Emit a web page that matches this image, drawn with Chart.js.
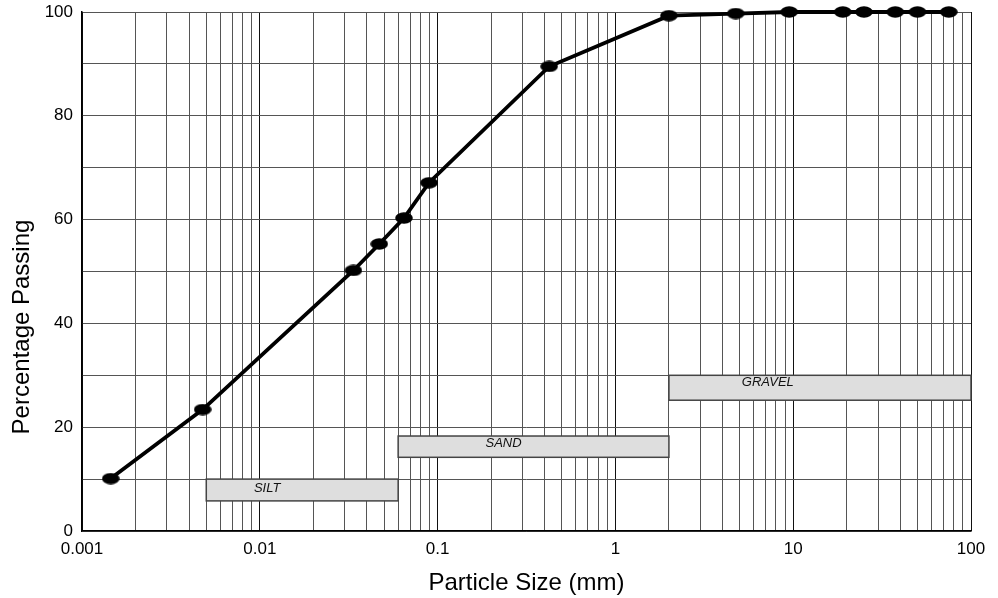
<!DOCTYPE html>
<html>
<head>
<meta charset="utf-8">
<title>Particle Size Distribution</title>
<script src="https://cdn.jsdelivr.net/npm/chart.js@4.4.1/dist/chart.umd.min.js"></script>
<style>
  html, body { margin: 0; padding: 0; background: #fff; }
  #grading { display: block; }
</style>
</head>
<body>
<canvas id="grading" width="998" height="598"></canvas>
<script>
// sieve + hydrometer results
const sizes = [0.00145, 0.00477, 0.0336, 0.047, 0.0647, 0.0895, 0.424, 2.0, 4.75, 9.5, 19, 25, 37.5, 50, 75]
const passing = [10.1, 23.4, 50.2, 55.3, 60.3, 67.1, 89.5, 99.3, 99.7, 100, 100, 100, 100, 100, 100]

// soil class bands (size range, percent range, label spot)
const zoneNames = ['SILT', 'SAND', 'GRAVEL']
const zoneFrom = [0.005, 0.06, 2]
const zoneTo = [0.06, 2, 100]
const zoneLow = [5.8, 14.2, 25.2]
const zoneHigh = [10, 18.3, 30]
const zoneTextX = [0.011, 0.235, 7.2]
const zoneTextY = [8.3, 16.8, 28.7]

// axis ticks
const decades = [0.001, 0.01, 0.1, 1, 10, 100]
const xTickLabels = ['0.001', '0.01', '0.1', '1', '10', '100']
const steps = [1, 2, 3, 4, 5, 6, 7, 8, 9]
const yTickLabels = ['0', '20', '40', '60', '80', '100']

const FONT = 'Arial, "Liberation Sans", sans-serif'
Chart.defaults.font.family = FONT
Chart.defaults.color = '#000'

// black oval marker
function ovalMarker() {
  const c = document.createElement('canvas')
  c.width = 18
  c.height = 12
  const g = c.getContext('2d')
  g.fillStyle = '#000'
  g.beginPath()
  g.ellipse(9, 6, 8.8, 5.8, 0, 0, Math.PI * 2)
  g.fill()
  return c
}

const bands = {
  id: 'bands',
  beforeDatasetsDraw(chart) {
    const { ctx, scales: { x, y } } = chart
    ctx.save()
    zoneNames.forEach((name, i) => {
      const left = x.getPixelForValue(zoneFrom[i])
      const right = x.getPixelForValue(zoneTo[i])
      const top = y.getPixelForValue(zoneHigh[i])
      const bottom = y.getPixelForValue(zoneLow[i])
      ctx.fillStyle = '#dedede'
      ctx.fillRect(left, top, right - left, bottom - top)
      ctx.strokeStyle = '#444'
      ctx.lineWidth = 1.5
      ctx.strokeRect(left, top, right - left, bottom - top)
      ctx.fillStyle = '#111'
      ctx.font = 'italic 13px ' + FONT
      ctx.textAlign = 'center'
      ctx.textBaseline = 'middle'
      ctx.fillText(name, x.getPixelForValue(zoneTextX[i]), y.getPixelForValue(zoneTextY[i]))
    })
    ctx.restore()
  }
}

// y title sits lower than the axis middle
const yTitle = {
  id: 'yTitle',
  afterDraw(chart) {
    const { ctx } = chart
    ctx.save()
    ctx.translate(29, 327)
    ctx.rotate(-Math.PI / 2)
    ctx.font = '24px ' + FONT
    ctx.fillStyle = '#000'
    ctx.textAlign = 'center'
    ctx.textBaseline = 'alphabetic'
    ctx.fillText('Percentage Passing', 0, 0)
    ctx.restore()
  }
}

const ctx = document.getElementById('grading').getContext('2d')
const chart = new Chart(ctx, {
  type: 'line',
  data: {
    datasets: [{
      label: 'Passing',
      data: sizes.map((s, i) => ({ x: s, y: passing[i] })),
      borderColor: '#000',
      backgroundColor: '#000',
      borderWidth: 3.8,
      pointStyle: ovalMarker(),
      pointRadius: 8,
      tension: 0,
      clip: false
    }]
  },
  options: {
    responsive: false,
    animation: false,
    devicePixelRatio: 1,
    layout: { padding: { top: 12, right: 27, left: 0, bottom: 0 } },
    plugins: {
      legend: { display: false },
      tooltip: { enabled: false }
    },
    scales: {
      x: {
        type: 'logarithmic',
        min: 0.001,
        max: 100,
        afterBuildTicks: (scale) => {
          const ticks = []
          decades.forEach((d, i) => {
            if (i === decades.length - 1) {
              ticks.push({ value: d, major: true })
              return
            }
            steps.forEach((s) => ticks.push({ value: d * s, major: s === 1 }))
          })
          scale.ticks = ticks
        },
        afterFit: (scale) => {
          scale.height = 67
          scale.paddingLeft = 0
          scale.paddingRight = 0
        },
        ticks: {
          autoSkip: false,
          maxRotation: 0,
          padding: 8,
          font: { size: 17 },
          callback: (value) => {
            const k = decades.indexOf(value)
            return k >= 0 ? xTickLabels[k] : ''
          }
        },
        grid: {
          drawTicks: false,
          color: (c) => (c.tick && c.tick.major ? '#111' : '#555'),
          lineWidth: 1
        },
        border: { color: '#000', width: 1.5 },
        title: {
          display: true,
          text: 'Particle Size (mm)',
          font: { size: 24 },
          padding: { top: 0, bottom: 0 }
        }
      },
      y: {
        min: 0,
        max: 100,
        afterFit: (scale) => {
          scale.width = 82
          scale.paddingTop = 0
          scale.paddingBottom = 0
        },
        ticks: {
          stepSize: 10,
          autoSkip: false,
          padding: 9,
          font: { size: 17 },
          callback: (value) => (value % 20 === 0 ? yTickLabels[value / 20] : '')
        },
        grid: {
          drawTicks: false,
          color: '#555',
          lineWidth: 1
        },
        border: { color: '#000', width: 1.5 }
      }
    }
  },
  plugins: [bands, yTitle]
})
</script>
</body>
</html>
